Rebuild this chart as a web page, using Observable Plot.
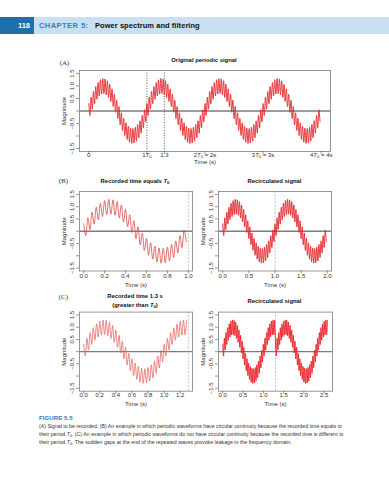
<!DOCTYPE html>
<html><head><meta charset="utf-8">
<script src="https://cdn.jsdelivr.net/npm/d3@7"></script>
<script src="https://cdn.jsdelivr.net/npm/@observablehq/plot@0.6"></script>
<style>
body{margin:0;background:#fff;}
#page{position:relative;width:389px;height:480px;overflow:hidden;font-family:"Liberation Sans",Arial,sans-serif;background:#fff;}
.abs{position:absolute;white-space:nowrap;line-height:1;}
sub.t0{font-size:70%;vertical-align:-0.3em;line-height:0;}
</style></head><body><div id="page"></div>
<script>
// ---- data ----
// one period (T0 = 1 s) of the signal, values at successive turning points of the fast ripple
const sampleStep = 0.02;
const periodValues = [0.30,-0.18,0.55,0.07,0.78,0.29,0.98,0.47,1.14,0.60,1.25,0.68,1.30,0.70,1.28,0.65,1.21,0.54,1.07,0.38,0.89,0.18,0.67,-0.05,0.43,-0.30,0.18,-0.55,-0.07,-0.78,-0.29,-0.98,-0.47,-1.14,-0.61,-1.25,-0.68,-1.30,-0.70,-1.28,-0.65,-1.21,-0.54,-1.07,-0.39,-0.89,-0.18,-0.67,0.05,-0.43];
const periodT0 = 1;
const recordedC = 1.3;
const periodsA = 4;
const yTicks = [-1.5,-1,-0.5,0,0.5,1,1.5];
const yTickLabels = ["−1.5","","−0.5","","0.5","1.0","1.5"];
const xTicksA = [0,1,1.3,2,3,4];
const xTickLabelsA = ["0","1T0","1.3","2T0 = 2s","3T0 = 3s","4T0 = 4s"];
const xTicksBL = [0,0.2,0.4,0.6,0.8,1.0];
const xTicksBR = [0,0.5,1.0,1.5,2.0];
const xTicksCL = [0,0.2,0.4,0.6,0.8,1.0,1.2];
const xTicksCR = [0,0.5,1.0,1.5,2.0,2.5];

// ---- series ----
function record(length) { // the original periodic signal observed for `length` seconds
  const n = Math.round(length / sampleStep);
  return d3.range(n).map(k => ({t: k * sampleStep, v: periodValues[k % periodValues.length]}));
}
function recirculate(rec, length, copies) {
  const out = [];
  for (let c = 0; c < copies; c++) rec.forEach(d => out.push({t: d.t + c * length, v: d.v, c}));
  return out;
}
const recB = record(periodT0);
const recC = record(recordedC);
const seriesA = recirculate(recB, periodT0, periodsA);
const seriesBL = recB;
const seriesBR = recirculate(recB, periodT0, 2);
const seriesCL = recC;
const seriesCR = recirculate(recC, recordedC, 2);

const page = document.getElementById("page");
const W = 389, H = 480;

function fixT0(svg) {
  const ns = "http://www.w3.org/2000/svg";
  svg.querySelectorAll("text").forEach(t => {
    const s = t.textContent;
    if (!s.includes("T0")) return;
    const parts = s.split("T0");
    while (t.firstChild) t.removeChild(t.firstChild);
    parts.forEach((p, i) => {
      if (i > 0) {
        const a = document.createElementNS(ns, "tspan"); a.setAttribute("font-style","italic"); a.textContent = "T"; t.appendChild(a);
        const b = document.createElementNS(ns, "tspan"); b.setAttribute("font-size","4.2"); b.setAttribute("dy","1.6"); b.textContent = "0"; t.appendChild(b);
        const c = document.createElementNS(ns, "tspan"); c.setAttribute("dy","-1.6"); c.textContent = p; t.appendChild(c);
      } else {
        const c = document.createElementNS(ns, "tspan"); c.textContent = p; t.appendChild(c);
      }
    });
  });
}

function panel(o) {
  const [x0, x1, y0, y1] = o.box;
  const yLab = yTicks.map((v, i) => ({v, s: yTickLabels[i]})).filter(d => d.s);
  const xLab = o.xTicks.map((v, i) => ({v, s: o.xLabels ? o.xLabels[i] : v.toFixed(1)}));
  const svg = Plot.plot({
    width: W, height: H,
    marginLeft: x0, marginRight: W - x1, marginTop: y0, marginBottom: H - y1,
    x: {domain: o.xDomain},
    y: {domain: [-1.62, 1.62]},
    style: {background: "transparent", position: "absolute", left: "0px", top: "0px", overflow: "visible", fontFamily: "'Liberation Sans', Arial, sans-serif"},
    marks: [
      Plot.ruleY([0], {stroke: "#7d7d7d", strokeWidth: 1.3}),
      Plot.ruleX(o.vlines, {stroke: o.vColor, strokeDasharray: o.vDash, strokeWidth: o.vWidth}),
      Plot.line(o.data, {x: "t", y: "v", stroke: o.stroke, strokeWidth: o.strokeWidth, curve: "catmull-rom"}),
      Plot.frame({stroke: "#8c8c8c", strokeWidth: 0.9}),
      Plot.axisY(yTicks, {tickSize: 3, tickFormat: () => "", label: null, stroke: "#555", strokeWidth: 0.6}),
      Plot.axisX(o.xTicks, {tickSize: 3, tickFormat: () => "", label: null, stroke: "#555", strokeWidth: 0.6}),
      Plot.text(yLab, {y: "v", text: "s", frameAnchor: "left", dx: -6, rotate: -90, textAnchor: "middle", lineAnchor: "bottom", fontSize: 6, fill: "#333"}),
      Plot.text(xLab, {x: "v", text: "s", frameAnchor: "bottom", dy: o.tickDy, fontSize: 6, fill: "#333"}),
      Plot.text(["Time (s)"], {frameAnchor: "bottom", dy: o.labelDy, fontSize: 6, fill: "#333"}),
      Plot.text(["Magnitude"], {frameAnchor: "left", dx: -14, rotate: -90, textAnchor: "middle", lineAnchor: "bottom", fontSize: 6, fill: "#333"})
    ]
  });
  fixT0(svg);
  page.appendChild(svg);
}

panel({box: [79, 330, 70, 151], xDomain: [-0.16, 4.16], data: seriesA, stroke: "#e3262c", strokeWidth: 0.9,
  xTicks: xTicksA, xLabels: xTickLabelsA, vlines: [periodT0, recordedC], vColor: "#333", vDash: "1,1.6", vWidth: 0.8, tickDy: 5, labelDy: 12.5});
panel({box: [79, 192, 191, 270.5], xDomain: [-0.04, 1.04], data: seriesBL, stroke: "#dc4a4a", strokeWidth: 0.8,
  xTicks: xTicksBL, vlines: [periodT0], vColor: "#aaa", vDash: "2,1.5", vWidth: 0.7, tickDy: 6.5, labelDy: 15.5});
panel({box: [218, 331, 191, 270.5], xDomain: [-0.08, 2.08], data: seriesBR, stroke: "#e0242a", strokeWidth: 0.9,
  xTicks: xTicksBR, vlines: [periodT0], vColor: "#aaa", vDash: "2,1.5", vWidth: 0.7, tickDy: 6.5, labelDy: 15.5});
panel({box: [79, 192, 311.6, 390.7], xDomain: [-0.052, 1.352], data: seriesCL, stroke: "#e46262", strokeWidth: 0.75,
  xTicks: xTicksCL, vlines: [recordedC], vColor: "#aaa", vDash: "2,1.5", vWidth: 0.7, tickDy: 6, labelDy: 14.6});
panel({box: [218, 332, 311.6, 390.7], xDomain: [-0.104, 2.704], data: seriesCR, stroke: "#ec1c24", strokeWidth: 0.9,
  xTicks: xTicksCR, vlines: [recordedC], vColor: "#aaa", vDash: "2,1.5", vWidth: 0.7, tickDy: 6, labelDy: 14.6});

// ---- page text ----
function place(html, x, y, style, anchor) {
  const d = document.createElement("div");
  d.className = "abs";
  d.innerHTML = html;
  d.style.cssText += style;
  d.style.left = x + "px"; d.style.top = y + "px";
  d.style.transform = anchor === "left" ? "translate(0,-50%)" : anchor === "right" ? "translate(-100%,-50%)" : "translate(-50%,-50%)";
  page.appendChild(d);
  return d;
}
const T0 = '<i>T</i><sub class="t0">0</sub>';
// header bar
const bar = document.createElement("div");
bar.style.cssText = "position:absolute;left:0;top:17px;width:389px;height:17px;background:#c9e0f0;";
page.appendChild(bar);
const box = document.createElement("div");
box.style.cssText = "position:absolute;left:0;top:17px;width:34px;height:17px;background:#1e6fab;";
page.appendChild(box);
place("118", 30, 25.8, "color:#fff;font-weight:bold;font-size:7.5px;", "right");
place("CHAPTER 5:", 39, 25.8, "color:#2f7fc1;font-weight:bold;font-size:7.5px;letter-spacing:0.45px;", "left");
place("Power spectrum and filtering", 95, 25.8, "color:#111;font-weight:bold;font-size:7.5px;letter-spacing:0.05px;", "left");

const serif = "font-family:'Liberation Serif','DejaVu Serif',serif;font-size:7px;color:#333;";
const ttl = "font-weight:bold;font-size:5.9px;color:#111;";
place("(A)", 64.5, 62.7, serif);
place("(B)", 63.3, 181.3, serif);
place("(C)", 63.3, 296.7, serif);
place("Original periodic signal", 204, 61, ttl);
place("Recorded time equals " + T0, 135, 182, ttl);
place("Recirculated signal", 274.5, 182, ttl);
place("Recorded time 1.3 s", 135, 297.3, ttl);
place("(greater than " + T0 + ")", 135, 306, ttl);
place("Recirculated signal", 274.5, 301.7, ttl);

// caption
place("FIGURE 5.5", 39, 417.7, "color:#2a7ab9;font-weight:bold;font-size:6px;letter-spacing:0.1px;", "left");
const capLines = [
  "(A) Signal to be recorded. (B) An example in which periodic waveforms have circular continuity because the recorded time equals to",
  "their period " + T0 + ". (C) An example in which periodic waveforms do not have circular continuity because the recorded time is different to",
  "their period " + T0 + ". The sudden gaps at the end of the repeated waves provoke leakage in the frequency domain."
];
const capY = [426.7, 435, 443.3];
const capTargets = [303, 305, null];
let lastScale = 1;
capLines.forEach((s, i) => {
  const d = place(s, 39, capY[i], "color:#333;font-size:5.2px;font-family:'Liberation Sans Narrow','Liberation Sans',Arial,sans-serif;", "left");
  const w = d.offsetWidth;
  const sc = capTargets[i] ? capTargets[i] / w : lastScale;
  lastScale = sc;
  d.style.transformOrigin = "0 50%";
  d.style.transform = `translate(0,-50%) scaleX(${sc})`;
});
</script></body></html>
